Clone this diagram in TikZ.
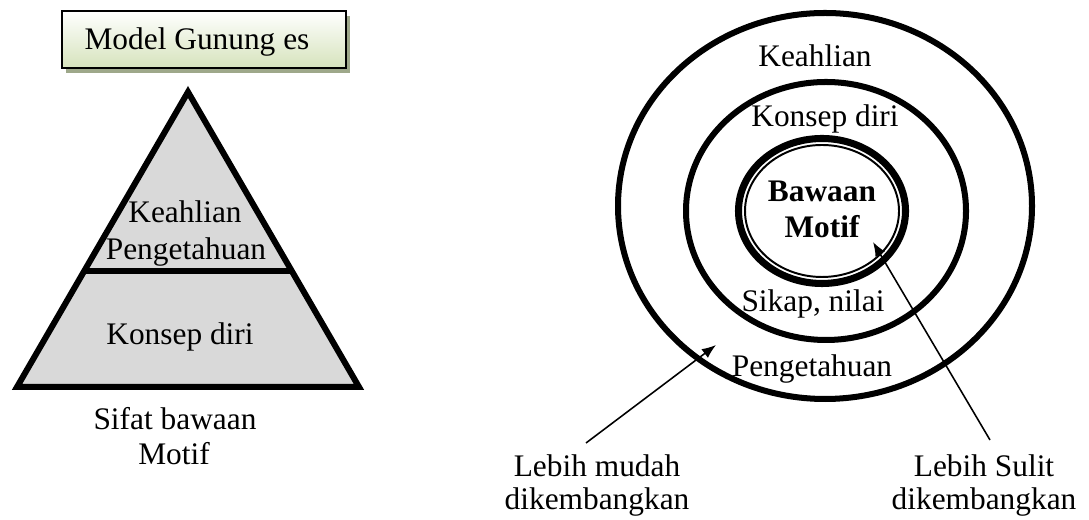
\documentclass[tikz,border=0pt]{standalone}
\usepackage{fontspec}
\setmainfont{Liberation Serif}
\usetikzlibrary{arrows.meta}
\definecolor{boxgreen}{RGB}{214,227,188}
\definecolor{shadowgreen}{RGB}{158,168,138}
\definecolor{mountgray}{RGB}{217,217,217}

\begin{document}
\begin{tikzpicture}[x=0.013445cm,y=-0.013445cm,>={Latex[length=5.4pt,width=4.2pt]},
  font=\fontsize{12}{14}\selectfont,
  lbl/.style={anchor=base,inner sep=0pt}]
\useasboundingbox (0,0) rectangle (1089,520);
% Left panel: the iceberg as a triangle, title box above it.
\begin{scope}
  \fill[shadowgreen] (66,16) rectangle (350,73);
  \shadedraw[top color=white,bottom color=boxgreen,line width=1.1pt] (62,11) rectangle (346,68);
  \node[lbl] (title) at (197,50) {Model Gunung es};
  \filldraw[fill=mountgray,line width=2.3pt] (188,92) -- (359,387) -- (17,387) -- cycle;
  \draw[line width=2pt] (84,271) -- (292,271);
  \node[lbl] (skillL) at (185,223) {Keahlian};
  \node[lbl] (knowL) at (186,260) {Pengetahuan};
  \node[lbl] (selfL) at (180,345) {Konsep diri};
  \node[lbl] (traitL) at (175,430) {Sifat bawaan};
  \node[lbl] (motiveL) at (174,465) {Motif};
\end{scope}
% Right panel: nested rings, outer ones easier to develop.
\begin{scope}
  \draw[line width=2.3pt] (825,206) ellipse [x radius=207,y radius=193];
  \draw[line width=2.3pt] (826,211) ellipse [x radius=140,y radius=129];
  \draw[line width=2.7pt] (822,211) ellipse [x radius=83.5,y radius=72.5];
  \draw[line width=.75pt] (822,211) ellipse [x radius=77,y radius=66];
  \node[lbl] (skillR) at (815,67) {Keahlian};
  \node[lbl] (selfR) at (825,127) {Konsep diri};
  \node[lbl,font=\fontsize{12}{14}\selectfont\bfseries] (traitR) at (822,202) {Bawaan};
  \node[lbl,font=\fontsize{12}{14}\selectfont\bfseries] (motiveR) at (822,238) {Motif};
  \node[lbl] (attitude) at (813,312) {Sikap, nilai};
  \node[lbl] (knowR) at (812,377) {Pengetahuan};
  \node[lbl] (easy1) at (597,477) {Lebih mudah};
  \node[lbl] (easy2) at (597,510) {dikembangkan};
  \node[lbl] (hard1) at (984,477) {Lebih Sulit};
  \node[lbl] (hard2) at (984,510) {dikembangkan};
  \coordinate (easytail) at (586,443);
  \coordinate (easytip) at (716,345);
  \coordinate (hardtail) at (990,440);
  \coordinate (hardtip) at (873,242);
  \draw[->,line width=.6pt] (easytail) -- (easytip);
  \draw[->,line width=.6pt] (hardtail) -- (hardtip);
\end{scope}
\end{tikzpicture}
\end{document}
